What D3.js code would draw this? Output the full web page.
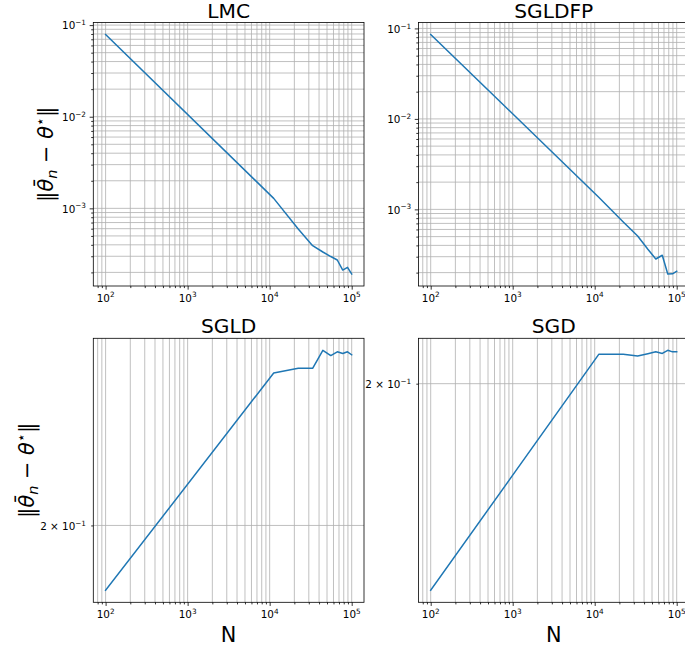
<!DOCTYPE html>
<html><head><meta charset="utf-8">
<script src="https://cdn.jsdelivr.net/npm/d3@7"></script>
<style>
body{margin:0;background:#fff}
svg{display:block}
text{font-family:"DejaVu Sans",sans-serif;fill:#000}
</style>
</head><body>
<svg id="chart" width="685" height="649"></svg>
<script>
// ---- data ----
const N = [100, 11200, 22300, 33400, 44500, 55600, 66700, 77800, 88900, 100000];
const lmc    = [0.0790, 0.001286, 0.000594, 0.000391, 0.000334, 0.000298, 0.000273, 0.000212, 0.000227, 0.000192];
const sgldfp = [0.0857, 0.001364, 0.000726, 0.000508, 0.000363, 0.000283, 0.000311, 0.000193, 0.000194, 0.000207];
const sgld   = [0.1811, 0.2526, 0.2544, 0.2544, 0.2615, 0.2594, 0.2609, 0.2602, 0.2609, 0.2597];
const sgd    = [0.1457, 0.2092, 0.2092, 0.2087, 0.2094, 0.2100, 0.2095, 0.2105, 0.2100, 0.2100];
const titles = ["LMC", "SGLDFP", "SGLD", "SGD"];
const xTicks = [1e2, 1e3, 1e4, 1e5];
const xTickLabels = [["10","2"],["10","3"],["10","4"],["10","5"]];
const yTicksTop = [1e-1, 1e-2, 1e-3];
const yTickLabelsTop = [["10","\u22121"],["10","\u22122"],["10","\u22123"]];
const yTicksBottom = [0.2];
const yTickLabelsBottom = [["2 \u00d7 10","\u22121"]];
const xLabel = "N";

// ---- layout ----
const FS = 10.4, TFS = 20.2, LFS = 20.8, TICK = 3.65, MINOR = 2.1, PAD = 3.65;
const panels = [
  {title:titles[0], v:lmc,    box:[93.3,22.5,364,286],    yt:yTicksTop,    yl:yTickLabelsTop,    xl:false, ylx:52.5},
  {title:titles[1], v:sgldfp, box:[418.4,22.5,689,286],   yt:yTicksTop,    yl:yTickLabelsTop,    xl:false, ylx:null},
  {title:titles[2], v:sgld,   box:[93.3,338.3,364,602.3], yt:yTicksBottom, yl:yTickLabelsBottom, xl:true,  ylx:33.5},
  {title:titles[3], v:sgd,    box:[418.4,338.3,689,602.3],yt:yTicksBottom, yl:yTickLabelsBottom, xl:true,  ylx:null}
];

const svg = d3.select("#chart");

function logPad(ext){
  const a = Math.log10(ext[0]), b = Math.log10(ext[1]), m = (b - a) * 0.05;
  return [Math.pow(10, a - m), Math.pow(10, b + m)];
}
function logTicks(lo, hi){
  const out = [];
  for (let e = Math.floor(Math.log10(lo)); e <= Math.ceil(Math.log10(hi)); e++)
    for (let k = 1; k <= 9; k++){
      const v = k * Math.pow(10, e);
      if (v >= lo && v <= hi) out.push({v, major: k === 1});
    }
  return out;
}
function supLabel(sel, parts){
  sel.append("tspan").text(parts[0]);
  sel.append("tspan").attr("font-size", FS*0.7).attr("dy", -4.2).text(parts[1]);
}

panels.forEach(p => {
  const [L, T, R, B] = p.box;
  const x = d3.scaleLog().domain(logPad(d3.extent(N))).range([L, R]);
  const y = d3.scaleLog().domain(logPad(d3.extent(p.v))).range([B, T]);
  const g = svg.append("g");

  const xt = logTicks(...x.domain());
  const yt = logTicks(...y.domain());

  // grid (major + minor)
  g.append("g").selectAll("line").data(xt).join("line")
    .attr("x1", d => x(d.v)).attr("x2", d => x(d.v)).attr("y1", T).attr("y2", B)
    .attr("stroke", "#b0b0b0").attr("stroke-width", 0.8);
  g.append("g").selectAll("line").data(yt).join("line")
    .attr("y1", d => y(d.v)).attr("y2", d => y(d.v)).attr("x1", L).attr("x2", R)
    .attr("stroke", "#b0b0b0").attr("stroke-width", 0.8);

  // data line
  g.append("path").datum(N.map((n, i) => [n, p.v[i]]))
    .attr("d", d3.line().x(d => x(d[0])).y(d => y(d[1])))
    .attr("fill", "none").attr("stroke", "#1f77b4").attr("stroke-width", 1.5)
    .attr("stroke-linejoin", "round").attr("stroke-linecap", "square");

  // spines
  g.append("rect").attr("x", L).attr("y", T).attr("width", R - L).attr("height", B - T)
    .attr("fill", "none").attr("stroke", "#000").attr("stroke-width", 0.8);

  // ticks
  const styleAxis = a => { a.select(".domain").remove(); a.selectAll("line").attr("stroke-width", 0.8); };
  g.append("g").attr("transform", `translate(0,${B})`)
    .call(d3.axisBottom(x).tickValues(xt.filter(d => d.major).map(d => d.v)).tickSize(TICK).tickFormat("")).call(styleAxis);
  g.append("g").attr("transform", `translate(0,${B})`)
    .call(d3.axisBottom(x).tickValues(xt.filter(d => !d.major).map(d => d.v)).tickSize(MINOR).tickFormat("")).call(styleAxis);
  g.append("g").attr("transform", `translate(${L},0)`)
    .call(d3.axisLeft(y).tickValues(yt.filter(d => d.major).map(d => d.v)).tickSize(TICK).tickFormat("")).call(styleAxis);
  g.append("g").attr("transform", `translate(${L},0)`)
    .call(d3.axisLeft(y).tickValues(yt.filter(d => !d.major).map(d => d.v)).tickSize(MINOR).tickFormat("")).call(styleAxis);

  // x tick labels
  xTicks.forEach((v, i) => {
    const t = g.append("text").attr("x", x(v)).attr("y", B + TICK + PAD + 8.3)
      .attr("text-anchor", "middle").attr("font-size", FS);
    supLabel(t, xTickLabels[i]);
  });
  // y tick labels
  p.yt.forEach((v, i) => {
    const t = g.append("text").attr("x", L - TICK - PAD).attr("y", y(v) + 4.3)
      .attr("text-anchor", "end").attr("font-size", FS);
    supLabel(t, p.yl[i]);
  });

  // title
  g.append("text").attr("x", (L + R) / 2).attr("y", T - 4.9)
    .attr("text-anchor", "middle").attr("font-size", TFS).text(p.title);

  // x label
  if (p.xl) g.append("text").attr("x", (L + R) / 2).attr("y", 641.7)
    .attr("text-anchor", "middle").attr("font-size", LFS).text(xLabel);

  // y label
  if (p.ylx !== null){
    const t = g.append("text")
      .attr("transform", `translate(${p.ylx},${(T + B) / 2}) rotate(-90)`)
      .attr("text-anchor", "middle").attr("font-size", LFS);
    t.append("tspan").text("\u2016");
    t.append("tspan").attr("font-style", "italic").text("\u03b8\u0304");
    t.append("tspan").attr("font-style", "italic").attr("font-size", LFS*0.7).attr("dy", 4).text("n");
    t.append("tspan").attr("dy", -4).text(" \u2212 ");
    t.append("tspan").attr("font-style", "italic").text("\u03b8");
    t.append("tspan").attr("font-size", LFS*0.7).attr("dy", -8).text("\u22c6");
    t.append("tspan").attr("dy", 8).text("\u2016");
  }
});
</script>
</body></html>
